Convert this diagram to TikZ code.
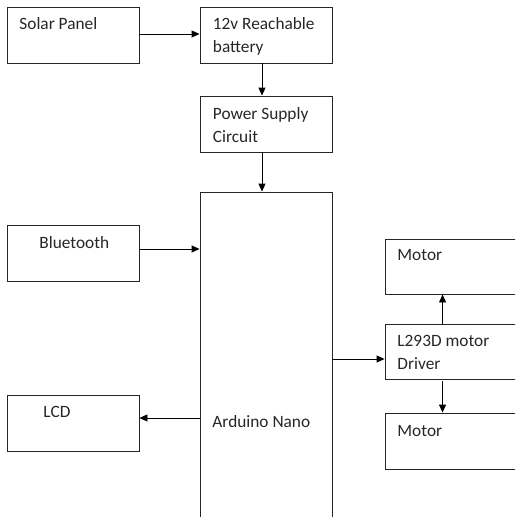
\documentclass[tikz,border=0pt]{standalone}
\usepackage{fontspec}
\setmainfont{Carlito}
\usetikzlibrary{arrows.meta}

\tikzset{every picture/.style={line width=0.9pt}}
\tikzset{
  blk/.style={draw=black!85, rectangle, inner sep=0pt},
  lbl/.style={anchor=base west, inner sep=0pt, align=left, text=black!85,
    font=\fontsize{17.3}{23}\selectfont},
  arr/.style={draw=black, -{Triangle[length=8pt,width=7pt]}}
}

\begin{document}
\begin{tikzpicture}[x=1pt,y=1pt,yscale=-1]

\clip (0,0) rectangle (515,517);

% boxes
\node [blk, minimum width=132pt, minimum height=56pt] (solar) at (73,35) {};
\node [blk, minimum width=132pt, minimum height=56pt] (battery) at (266,35) {};
\node [blk, minimum width=132pt, minimum height=56pt] (psc) at (266,124) {};
\node [blk, minimum width=132pt, minimum height=360pt] (ard) at (266,372) {};
\node [blk, minimum width=132pt, minimum height=56pt] (blue) at (73,253) {};
\node [blk, minimum width=132pt, minimum height=56pt] (lcd) at (73,423) {};
\node [blk, minimum width=140pt, minimum height=55pt] (mtop) at (455,266.5) {};
\node [blk, minimum width=140pt, minimum height=55pt] (drv) at (455,351.5) {};
\node [blk, minimum width=140pt, minimum height=56pt] (mbot) at (455,441) {};

% texts (base = last line)
\node [lbl] (solartxt) at (19,29.5) {Solar Panel};
\node [lbl] (batterytxt) at (212.5,52.5) {12v Reachable\\battery};
\node [lbl] (psctxt) at (212.5,142) {Power Supply\\Circuit};
\node [lbl] (bluetxt) at (39,248) {Bluetooth};
\node [lbl] (lcdtxt) at (43,417) {LCD};
\node [lbl] (ardtxt) at (212,427) {Arduino Nano};
\node [lbl] (mtoptxt) at (397,260) {Motor};
\node [lbl] (drvtxt) at (397,369) {L293D motor\\Driver};
\node [lbl] (mbottxt) at (397,436) {Motor};

% arrows
\draw [arr] ([yshift=-1pt]solar.east) -- ([yshift=-1pt]solar.east -| battery.west);
\draw [arr] ([xshift=-4pt]battery.south) -- ([xshift=-4pt]psc.north);
\draw [arr] ([xshift=-4pt]psc.south) -- ([xshift=-4pt]psc.south |- ard.north);
\draw [arr] ([yshift=-4pt]blue.east) -- ([yshift=-4pt]blue.east -| ard.west);
\draw [arr] ([yshift=-5pt]lcd.east -| ard.west) -- ([yshift=-5pt]lcd.east);
\draw [arr] ([yshift=7.5pt]drv.west -| ard.east) -- ([yshift=7.5pt]drv.west);
\draw [arr] ([xshift=58pt]drv.north west) -- ([xshift=58pt]mtop.south west);
\draw [arr] ([xshift=58pt,yshift=2pt]drv.south west) -- ([xshift=58pt]mbot.north west);

\end{tikzpicture}
\end{document}
